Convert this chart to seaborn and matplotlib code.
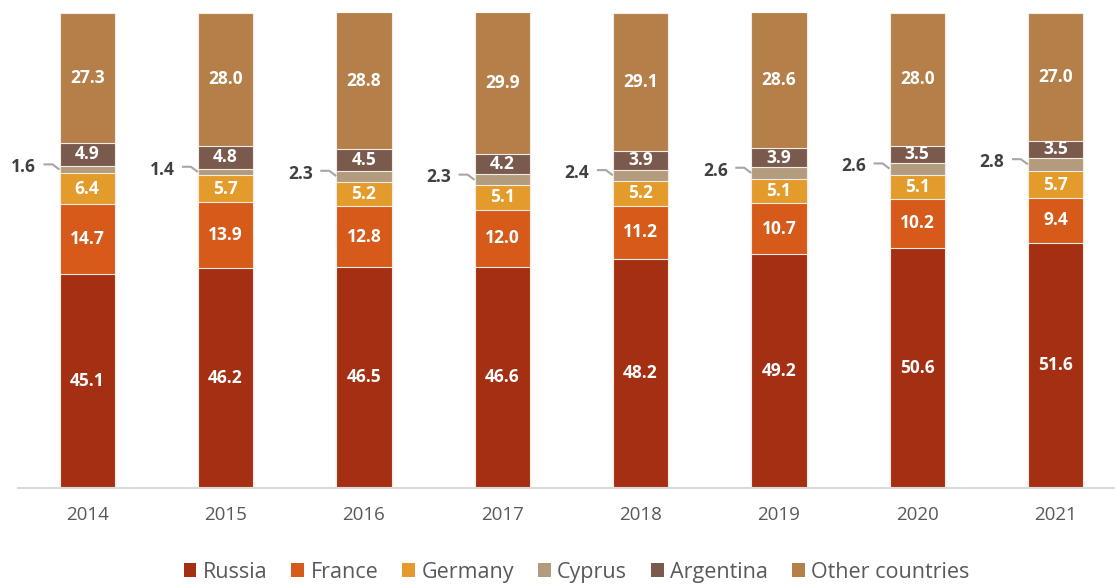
import numpy as np
import pandas as pd
import seaborn as sns
import matplotlib.pyplot as plt
from matplotlib.patches import Patch

years = ["2014", "2015", "2016", "2017", "2018", "2019", "2020", "2021"]
russia = [45.1, 46.2, 46.5, 46.6, 48.2, 49.2, 50.6, 51.6]
france = [14.7, 13.9, 12.8, 12.0, 11.2, 10.7, 10.2, 9.4]
germany = [6.4, 5.7, 5.2, 5.1, 5.2, 5.1, 5.1, 5.7]
cyprus = [1.6, 1.4, 2.3, 2.3, 2.4, 2.6, 2.6, 2.8]
argentina = [4.9, 4.8, 4.5, 4.2, 3.9, 3.9, 3.5, 3.5]
other = [27.3, 28.0, 28.8, 29.9, 29.1, 28.6, 28.0, 27.0]

series_names = ["Russia", "France", "Germany", "Cyprus", "Argentina", "Other countries"]
series_values = [russia, france, germany, cyprus, argentina, other]
colors = ["#A52F12", "#D65A1A", "#E39B2B", "#B39C7E", "#7B5A4E", "#B57F4A"]

sns.set_theme(style="white")
plt.rcParams["font.family"] = ["Open Sans", "DejaVu Sans"]

fig = plt.figure(figsize=(11.15, 5.85), dpi=100)
ax = fig.add_axes([18 / 1115, 0.166, 1 - 18 / 1115, 0.812])

vals = np.array(series_values)
cum = np.cumsum(vals, axis=0)

# stacked bars: draw cumulative totals from the top layer down
for i in range(len(series_names) - 1, -1, -1):
    df = pd.DataFrame({"year": years, "total": cum[i]})
    sns.barplot(data=df, x="year", y="total", color=colors[i], width=0.4,
                edgecolor="#f4ece4", linewidth=0.8, saturation=1, ax=ax)

xs = np.arange(len(years))
for i, name in enumerate(series_names):
    for j, x in enumerate(xs):
        v = vals[i, j]
        mid = cum[i, j] - v / 2
        if name == "Cyprus":
            ax.plot([x - 0.315, x - 0.25, x - 0.2], [mid + 1.1, mid + 1.1, mid],
                    color="#a6a6a6", lw=1.5, solid_capstyle="butt", zorder=5)
            ax.text(x - 0.37, mid + 0.5, f"{v:.1f}", ha="right", va="center",
                    fontsize=12.5, fontweight="bold", color="#404040")
        else:
            ax.text(x, mid, f"{v:.1f}", ha="center", va="center",
                    fontsize=12.5, fontweight="bold", color="white")

ax.set_xlim(-0.5, 7.43)
ax.set_ylim(0, 100)
ax.set_yticks([])
ax.set_xlabel("")
ax.set_ylabel("")
for s in ["top", "right", "left"]:
    ax.spines[s].set_visible(False)
ax.spines["bottom"].set_color("#d9d9d9")
ax.spines["bottom"].set_linewidth(1.5)
ax.tick_params(axis="x", length=0, pad=13, labelsize=13.5, labelcolor="#595959")

handles = [Patch(facecolor=c, edgecolor="none") for c in colors]
fig.legend(handles, series_names, loc="center", bbox_to_anchor=(0.517, 0.022),
           ncol=6, frameon=False, fontsize=15.5, labelcolor="#595959",
           handlelength=0.6, handleheight=0.6, handletextpad=0.3, columnspacing=1.1)

fig.savefig("out.png", dpi=100)
